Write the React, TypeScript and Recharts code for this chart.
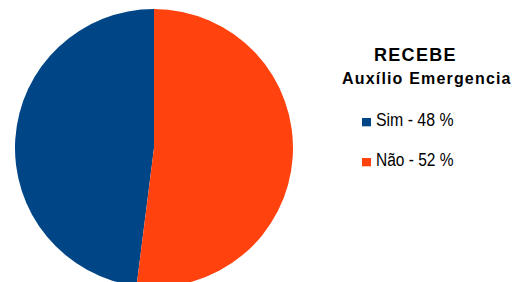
import React from 'react';
import { PieChart, Pie, Cell, Legend } from 'recharts';

const categories = ['Sim', 'Não'];
const values = [48, 52];
const colors = ['#004586', '#ff420e'];
const titleLine1 = 'RECEBE';
const titleLine2 = 'Auxílio Emergencia';

const data = categories.map((name, i) => ({ name, value: values[i] }));

const FONT = '"Liberation Sans", Arial, sans-serif';

const LegendContent = () => (
  <svg width={526} height={282} style={{ position: 'absolute', left: 0, top: 0, pointerEvents: 'none' }}>
    <text x={374} y={61} fontFamily={FONT} fontWeight="bold" fontSize={18} textLength={81.5} lengthAdjust="spacing" fill="#000">
      {titleLine1}
    </text>
    <text x={342} y={84} fontFamily={FONT} fontWeight="bold" fontSize={16} textLength={168.5} lengthAdjust="spacing" fill="#000">
      {titleLine2}
    </text>
    {data.map((d, i) => (
      <g key={d.name}>
        <rect x={362} y={118 + i * 40} width={9} height={8.3} fill={colors[i]} />
        <text x={376} y={126.3 + i * 40} fontFamily={FONT} fontSize={18} textLength={77.5} lengthAdjust="spacingAndGlyphs" fill="#000">
          {`${d.name} - ${d.value} %`}
        </text>
      </g>
    ))}
  </svg>
);

export default function App() {
  return (
    <div style={{ position: 'absolute', left: 0, top: 0, width: 526, height: 282, background: '#fff' }}>
      <PieChart width={526} height={282} margin={{ top: 0, right: 0, bottom: 0, left: 0 }}>
        <Pie
          data={data}
          dataKey="value"
          nameKey="name"
          cx={154}
          cy={148}
          outerRadius={139}
          innerRadius={0}
          startAngle={90}
          endAngle={450}
          stroke="none"
          isAnimationActive={false}
        >
          {data.map((d, i) => (
            <Cell key={d.name} fill={colors[i]} />
          ))}
        </Pie>
        <Legend
          content={<LegendContent />}
          wrapperStyle={{ position: 'absolute', left: 0, top: 0, width: 526, height: 282 }}
        />
      </PieChart>
    </div>
  );
}
